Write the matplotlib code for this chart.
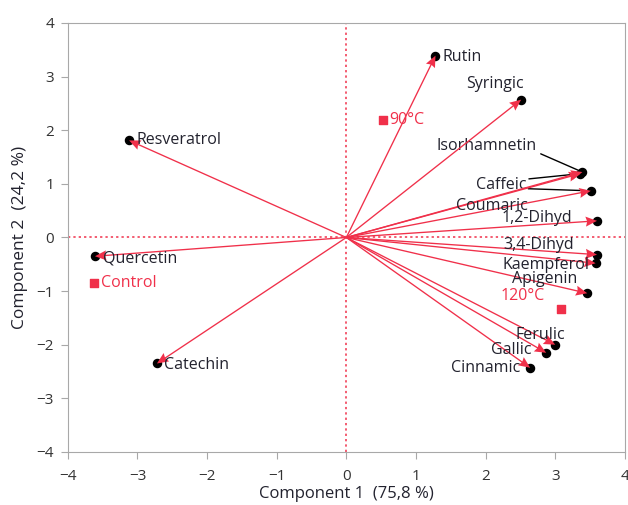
import numpy as np
import matplotlib.pyplot as plt

plt.rcParams['font.family'] = ['Open Sans', 'DejaVu Sans']

# loadings (variables)
var_names = ['Rutin', 'Syringic', 'Resveratrol', 'Isorhamnetin', 'Caffeic', 'Coumaric',
             '1,2-Dihyd', '3,4-Dihyd', 'Kaempferol', 'Apigenin', 'Ferulic', 'Gallic',
             'Cinnamic', 'Quercetin', 'Catechin']
var_x = [1.28, 2.51, -3.12, 3.39, 3.36, 3.51, 3.60, 3.60, 3.58, 3.46, 3.00, 2.87, 2.64, -3.61, -2.72]
var_y = [3.39, 2.57, 1.81, 1.22, 1.19, 0.87, 0.31, -0.32, -0.48, -1.04, -2.00, -2.15, -2.43, -0.35, -2.35]

# scores (treatments)
obs_names = ['90°C', 'Control', '120°C']
obs_x = [0.53, -3.63, 3.09]
obs_y = [2.20, -0.84, -1.33]

red = '#f0304a'
gray = '#a8a8a8'
txt = '#22222e'

fig = plt.figure(figsize=(6.28, 5.05), dpi=100)
ax = fig.add_axes([0.108, 0.105, 0.887, 0.8495])

ax.axhline(0, color=red, ls=(0, (1.5, 2)), lw=1.1, zorder=1)
ax.axvline(0, color=red, ls=(0, (1.5, 2)), lw=1.1, zorder=1)

ax.scatter(var_x, var_y, s=34, color='black', zorder=3)
ax.quiver(np.zeros(len(var_x)), np.zeros(len(var_y)), var_x, var_y,
          angles='xy', scale_units='xy', scale=1, color=red,
          width=0.0024, headwidth=7.5, headlength=8.5, headaxislength=7.5, zorder=4)

ax.scatter(obs_x, obs_y, marker='s', s=40, color=red, zorder=5)

fs = 11.5
# label offsets in points: (dx, dy, ha)
label_pos = {
    'Rutin': (5, -1, 'left'),
    'Syringic': (-19, 11, 'center'),
    'Resveratrol': (5, 0, 'left'),
    'Quercetin': (6, -1.5, 'left'),
    'Catechin': (5, -1, 'left'),
    'Ferulic': (-11, 7, 'center'),
    'Gallic': (-25, 2, 'center'),
    'Cinnamic': (-7, -0.5, 'right'),
    '1,2-Dihyd': (-43, 2, 'center'),
    '3,4-Dihyd': (-42, 7, 'center'),
    'Kaempferol': (-36, -1, 'center'),
    'Apigenin': (-31, 10, 'center'),
    'Coumaric': (-71, -11, 'center'),
}
for n, x, y in zip(var_names, var_x, var_y):
    if n in label_pos:
        dx, dy, ha = label_pos[n]
        ax.annotate(n, (x, y), xytext=(dx, dy), textcoords='offset points',
                    ha=ha, va='center', fontsize=fs, color=txt, zorder=6)

# labels with leader lines
ax.annotate('Isorhamnetin', (3.39, 1.22), xytext=(-105, 19), textcoords='offset points',
            ha='left', va='center', fontsize=fs, color=txt,
            arrowprops=dict(arrowstyle='-', color='black', lw=1, shrinkA=1, shrinkB=3,
                            relpos=(1, 0.1)))
ax.annotate('Caffeic', (3.36, 1.19), xytext=(-39, -8), textcoords='offset points',
            ha='right', va='center', fontsize=fs, color=txt,
            arrowprops=dict(arrowstyle='-', color='black', lw=1, shrinkA=0, shrinkB=3,
                            relpos=(1, 0.85)))
ax.annotate('', (3.51, 0.87), xytext=(-45, 1.5), textcoords='offset points',
            arrowprops=dict(arrowstyle='-', color='black', lw=1, shrinkA=0, shrinkB=3))

obs_pos = {'90°C': (4.5, -0.5, 'left'), 'Control': (5.5, -0.5, 'left'), '120°C': (-44, 9, 'left')}
for n, x, y in zip(obs_names, obs_x, obs_y):
    dx, dy, ha = obs_pos[n]
    ax.annotate(n, (x, y), xytext=(dx, dy), textcoords='offset points',
                ha=ha, va='center', fontsize=fs, color=red, zorder=6)

ax.set_xlim(-4, 4)
ax.set_ylim(-4, 4)
ax.set_xticks(np.arange(-4, 5))
ax.set_yticks(np.arange(-4, 5))
for s in ax.spines.values():
    s.set_color(gray)
ax.tick_params(color=gray, labelsize=11, labelcolor='#333333', length=5)
ax.tick_params(axis='x', pad=7.5)
ax.tick_params(axis='y', pad=5)
ax.set_xlabel('Component 1  (75,8 %)', fontsize=12, color=txt, labelpad=1)
ax.set_ylabel('Component 2  (24,2 %)', fontsize=12.5, color=txt, labelpad=6)

fig.savefig('out.png', dpi=100)
